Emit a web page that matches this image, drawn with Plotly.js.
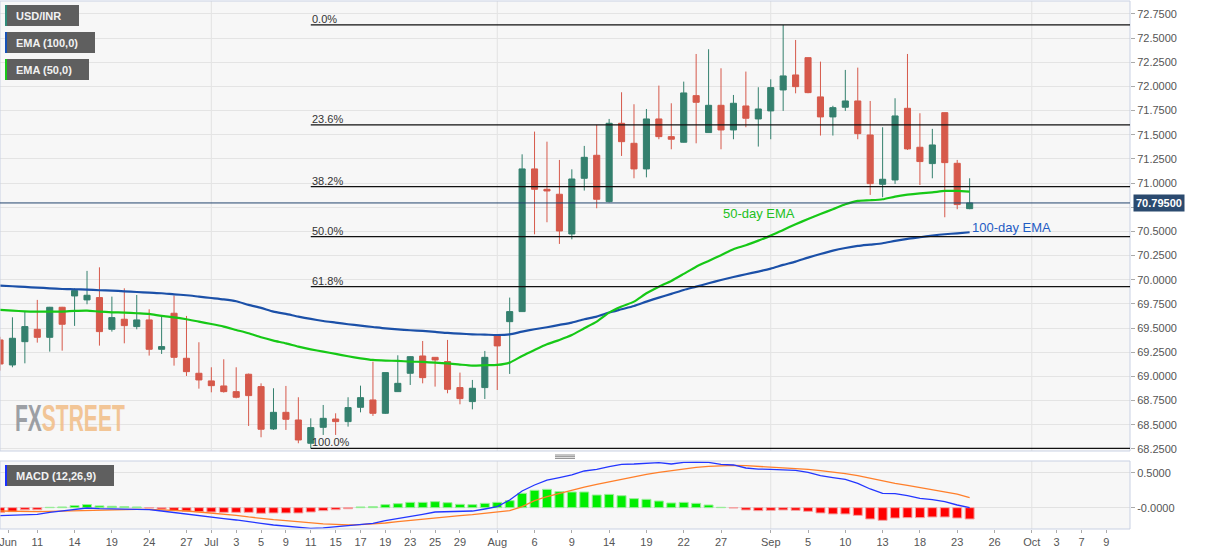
<!DOCTYPE html>
<html><head><meta charset="utf-8">
<script src="https://cdn.plot.ly/plotly-3.0.1.min.js"></script>
<style>html,body{margin:0;padding:0;background:#fff;}#chart{width:1207px;height:555px;}</style>
</head><body><div id="chart"></div>
<script>
// ---- data (USD/INR daily) ----
const dates = [
 '2019-06-06','2019-06-07','2019-06-10','2019-06-11','2019-06-12','2019-06-13','2019-06-14','2019-06-17','2019-06-18','2019-06-19',
 '2019-06-20','2019-06-21','2019-06-24','2019-06-25','2019-06-26','2019-06-27','2019-06-28','2019-07-01','2019-07-02','2019-07-03',
 '2019-07-04','2019-07-05','2019-07-08','2019-07-09','2019-07-10','2019-07-11','2019-07-12','2019-07-15','2019-07-16','2019-07-17',
 '2019-07-18','2019-07-19','2019-07-22','2019-07-23','2019-07-24','2019-07-25','2019-07-26','2019-07-29','2019-07-30','2019-07-31',
 '2019-08-01','2019-08-02','2019-08-05','2019-08-06','2019-08-07','2019-08-08','2019-08-09','2019-08-12','2019-08-13','2019-08-14',
 '2019-08-15','2019-08-16','2019-08-19','2019-08-20','2019-08-21','2019-08-22','2019-08-23','2019-08-26','2019-08-27','2019-08-28',
 '2019-08-29','2019-08-30','2019-09-02','2019-09-03','2019-09-04','2019-09-05','2019-09-06','2019-09-09','2019-09-10','2019-09-11',
 '2019-09-12','2019-09-13','2019-09-16','2019-09-17','2019-09-18','2019-09-19','2019-09-20','2019-09-23','2019-09-24'];
const open = [
 69.378,69.119,69.360,69.488,69.405,69.716,69.833,69.792,69.816,69.488,
 69.592,69.516,69.585,69.281,69.654,69.188,69.033,68.954,68.902,68.843,
 69.023,68.895,68.457,68.629,68.550,68.309,68.474,68.560,68.533,68.681,
 68.757,68.619,68.843,69.033,69.212,69.198,69.154,68.885,68.740,68.885,
 69.419,69.567,69.671,71.147,70.936,70.885,70.474,71.050,71.288,70.809,
 71.619,71.412,71.147,71.664,71.481,71.423,71.905,71.523,71.805,71.550,
 71.798,71.664,71.747,71.964,72.119,72.298,71.892,71.685,71.785,71.850,
 71.498,70.988,71.033,71.774,71.371,71.202,71.729,71.205,70.736];
const high = [
 69.410,69.612,69.671,69.792,69.720,69.720,69.912,70.092,70.129,69.826,
 69.912,69.843,69.695,69.626,69.836,69.626,69.354,69.095,69.178,69.095,
 69.030,68.929,68.878,68.902,68.785,68.567,68.705,68.619,68.785,68.905,
 69.154,69.040,69.219,69.210,69.367,69.200,69.378,69.040,68.964,69.264,
 69.420,69.816,71.298,71.533,71.429,71.240,71.143,71.385,71.602,71.664,
 71.940,71.816,71.767,72.009,71.826,72.050,72.336,72.385,72.188,71.912,
 72.154,71.992,72.074,72.636,72.481,72.300,72.257,71.800,72.171,72.195,
 71.850,71.578,71.878,72.336,71.723,71.561,71.730,71.240,71.050];
const low = [
 69.060,69.095,69.136,69.350,69.257,69.267,69.523,69.747,69.319,69.464,
 69.343,69.488,69.216,69.233,69.112,69.005,68.874,68.836,68.833,68.774,
 68.488,68.371,68.447,68.447,68.309,68.257,68.395,68.395,68.481,68.629,
 68.592,68.612,68.840,68.912,68.929,68.895,68.826,68.712,68.660,68.767,
 68.860,69.026,69.670,70.471,70.595,70.371,70.419,70.923,70.740,70.800,
 71.281,71.050,71.060,71.454,71.350,71.420,71.412,71.520,71.350,71.454,
 71.578,71.378,71.454,71.747,71.929,71.930,71.492,71.492,71.747,71.454,
 70.878,70.854,70.992,71.343,70.981,71.050,70.647,70.730,70.730];
const close = [
 69.129,69.395,69.516,69.405,69.716,69.540,69.888,69.840,69.464,69.609,
 69.526,69.585,69.281,69.309,69.198,69.050,68.964,68.905,68.843,68.785,
 68.802,68.454,68.629,68.557,68.343,68.471,68.567,68.533,68.678,68.781,
 68.619,69.040,68.929,69.205,68.988,69.171,68.867,68.771,68.878,69.198,
 69.316,69.671,71.147,70.936,70.919,70.505,71.043,71.267,70.833,71.619,
 71.429,71.147,71.664,71.481,71.454,71.933,71.836,71.805,71.550,71.826,
 71.671,71.767,71.988,72.109,71.998,71.936,71.685,71.781,71.850,71.512,
 70.995,71.040,71.695,71.354,71.223,71.395,71.212,70.778,70.795];
const ema100 = [
 69.940,69.933,69.926,69.919,69.912,69.905,69.902,69.898,69.892,69.888,
 69.881,69.874,69.867,69.861,69.850,69.840,69.826,69.812,69.798,69.778,
 69.740,69.709,69.671,69.647,69.619,69.595,69.574,69.557,69.540,69.526,
 69.512,69.498,69.488,69.478,69.471,69.461,69.450,69.443,69.436,69.433,
 69.429,69.436,69.464,69.488,69.509,69.533,69.557,69.592,69.619,69.661,
 69.695,69.729,69.774,69.816,69.854,69.895,69.929,69.964,69.998,70.029,
 70.057,70.085,70.116,70.154,70.188,70.229,70.267,70.302,70.329,70.350,
 70.364,70.378,70.402,70.423,70.440,70.457,70.471,70.481,70.492];
const ema50 = [
 69.688,69.681,69.674,69.671,69.671,69.671,69.678,69.681,69.671,69.664,
 69.661,69.654,69.647,69.626,69.612,69.592,69.567,69.543,69.516,69.481,
 69.447,69.405,69.371,69.343,69.309,69.281,69.257,69.233,69.209,69.188,
 69.171,69.164,69.161,69.154,69.150,69.143,69.136,69.123,69.112,69.116,
 69.119,69.143,69.212,69.274,69.333,69.378,69.429,69.498,69.567,69.661,
 69.723,69.774,69.861,69.929,69.988,70.061,70.136,70.195,70.254,70.316,
 70.357,70.405,70.457,70.516,70.574,70.629,70.681,70.729,70.781,70.816,
 70.823,70.833,70.861,70.881,70.895,70.905,70.919,70.919,70.912];
const macdLine = [
 -0.114,-0.105,-0.100,-0.095,-0.067,-0.043,-0.024,-0.005,-0.014,-0.019,
 -0.019,-0.019,-0.029,-0.048,-0.071,-0.095,-0.114,-0.138,-0.157,-0.176,
 -0.195,-0.224,-0.248,-0.262,-0.286,-0.295,-0.290,-0.276,-0.262,-0.238,
 -0.224,-0.186,-0.152,-0.119,-0.095,-0.062,-0.057,-0.057,-0.048,-0.019,
 0.014,0.110,0.238,0.324,0.395,0.429,0.467,0.524,0.548,0.586,
 0.619,0.624,0.633,0.643,0.624,0.648,0.652,0.648,0.619,0.610,
 0.567,0.552,0.548,0.543,0.533,0.505,0.457,0.429,0.405,0.348,
 0.267,0.205,0.200,0.171,0.133,0.114,0.086,0.038,0.000];
const signalLine = [
 -0.048,-0.052,-0.057,-0.057,-0.052,-0.048,-0.043,-0.033,-0.033,-0.029,
 -0.029,-0.024,-0.024,-0.029,-0.038,-0.048,-0.062,-0.076,-0.090,-0.110,
 -0.133,-0.157,-0.171,-0.186,-0.205,-0.219,-0.233,-0.238,-0.248,-0.243,
 -0.233,-0.219,-0.200,-0.181,-0.167,-0.148,-0.133,-0.114,-0.100,-0.081,
 -0.062,-0.043,0.014,0.100,0.157,0.205,0.252,0.295,0.333,0.371,
 0.410,0.438,0.476,0.505,0.529,0.552,0.576,0.590,0.600,0.605,
 0.600,0.590,0.581,0.571,0.562,0.548,0.529,0.510,0.486,0.457,
 0.419,0.381,0.348,0.319,0.290,0.262,0.233,0.195,0.143];
const macdHist = [
 -0.070,-0.057,-0.030,-0.030,0.005,0.010,0.030,0.045,0.025,0.020,
 0.015,0.010,-0.005,-0.020,-0.040,-0.050,-0.057,-0.062,-0.067,-0.067,
 -0.067,-0.080,-0.076,-0.076,-0.076,-0.062,-0.043,-0.029,-0.015,0.010,
 0.014,0.043,0.057,0.076,0.076,0.086,0.071,0.048,0.043,0.062,
 0.076,0.100,0.205,0.248,0.262,0.229,0.224,0.224,0.181,0.190,
 0.171,0.129,0.119,0.095,0.067,0.076,0.062,0.038,0.005,-0.005,
 -0.033,-0.043,-0.038,-0.033,-0.038,-0.052,-0.076,-0.090,-0.090,-0.110,
 -0.162,-0.181,-0.148,-0.143,-0.143,-0.133,-0.133,-0.148,-0.162];
const tickDates = ['2019-06-06','2019-06-11','2019-06-14','2019-06-19','2019-06-24','2019-06-27','2019-07-01','2019-07-03','2019-07-05','2019-07-09',
 '2019-07-11','2019-07-15','2019-07-17','2019-07-19','2019-07-23','2019-07-25','2019-07-29','2019-08-01','2019-08-06','2019-08-09',
 '2019-08-14','2019-08-19','2019-08-22','2019-08-27','2019-09-02','2019-09-05','2019-09-10','2019-09-13','2019-09-18','2019-09-23',
 '2019-09-26','2019-10-01','2019-10-03','2019-10-07','2019-10-09'];
const tickLabels = ['Jun','11','14','19','24','27','Jul','3','5','9',
 '11','15','17','19','23','25','29','Aug','6','9',
 '14','19','22','27','Sep','5','10','13','18','23',
 '26','Oct','3','7','9'];
const monthStarts = ['2019-07-01','2019-08-01','2019-09-02','2019-10-01'];
const fibLevels = [0, 23.6, 38.2, 50, 61.8, 100];
const priceTicks = [68.25,68.5,68.75,69,69.25,69.5,69.75,70,70.25,70.5,70.75,71,71.25,71.5,71.75,72,72.25,72.5,72.75];

// ---- trading-day calendar (weekdays) used as x positions ----
function weekdays(a, b){
  const out=[]; const d=new Date(a+'T00:00:00Z'); const e=new Date(b+'T00:00:00Z');
  while(d<=e){ const w=d.getUTCDay(); if(w!==0&&w!==6) out.push(d.toISOString().slice(0,10)); d.setUTCDate(d.getUTCDate()+1); }
  return out;
}
const cal = weekdays('2019-06-06','2019-10-11');
const pos = s => cal.indexOf(s);
const xs = dates.map(pos);
const XMAX = 90.9;
const tickvals = tickDates.map(pos);
tickvals[0] += 0.65; // first month label nudged inside the plot as in the original

// pixel helpers for decorations (plot area: x 0..1130, y 1..529)
const PW = 1130, PT = 1, PH = 528;
const PX = x => x / PW;
const PY = y => 1 - (y - PT) / PH;

const FONT = 'Liberation Sans, Arial, sans-serif';
const traces = [
  {type:'candlestick', x:xs, open:open, high:high, low:low, close:close,
   increasing:{line:{color:'#34806e',width:1}, fillcolor:'#34806e'},
   decreasing:{line:{color:'#d6594b',width:1}, fillcolor:'#d6594b'},
   whiskerwidth:0, hoverinfo:'skip', showlegend:false, xaxis:'x', yaxis:'y'},
  {type:'scatter', mode:'lines', x:xs, y:ema100, line:{color:'#1b50a8', width:2.2, shape:'spline', smoothing:0.6}, hoverinfo:'skip', showlegend:false, yaxis:'y'},
  {type:'scatter', mode:'lines', x:xs, y:ema50, line:{color:'#16c816', width:2.2, shape:'spline', smoothing:0.6}, hoverinfo:'skip', showlegend:false, yaxis:'y'},
  {type:'bar', x:xs, y:macdHist, width:0.72, yaxis:'y2', hoverinfo:'skip', showlegend:false,
   marker:{color:macdHist.map(v=>v>=0?'#00ee00':'#ff0000'), line:{color:macdHist.map(v=>v>=0?'#9aee9a':'#f4a4a4'), width:1}}},
  {type:'scatter', mode:'lines', x:xs, y:signalLine, line:{color:'#ff7f2a', width:1.3}, hoverinfo:'skip', showlegend:false, yaxis:'y2'},
  {type:'scatter', mode:'lines', x:xs, y:macdLine, line:{color:'#2336ff', width:1.3}, hoverinfo:'skip', showlegend:false, yaxis:'y2'}
];

const hi = Math.max(...high), lo = Math.min(...low);
const loDate = dates[low.indexOf(lo)];
const lastClose = close[close.length-1];

const shapes = [], annotations = [];
// month grid lines
monthStarts.forEach(d => {
  ['y','y2'].forEach(ax => shapes.push({type:'line', xref:'x', yref:ax+' domain', x0:pos(d), x1:pos(d), y0:0, y1:1, line:{color:'#e2e2e2', width:1}, layer:'below'}));
});
// panel borders
['y','y2'].forEach(ax => shapes.push({type:'rect', xref:'paper', yref:ax+' domain', x0:0, x1:1, y0:0, y1:1, line:{color:'#c9d1e3', width:1}, layer:'above'}));
// fibonacci retracement
fibLevels.forEach(p => {
  const v = hi - (hi - lo) * p / 100;
  shapes.push({type:'line', xref:'x', yref:'y', x0:pos(loDate), x1:XMAX, y0:v, y1:v, line:{color:'#111', width:1.3}});
  annotations.push({xref:'x', yref:'y', x:pos(loDate), y:v, xanchor:'left', yanchor:'bottom', showarrow:false, text:p.toFixed(1)+'%', font:{family:FONT, size:11, color:'#333'}, borderpad:0, yshift:-1});
});
// last price line + label
shapes.push({type:'line', xref:'paper', yref:'y', x0:0, x1:1, y0:lastClose, y1:lastClose, line:{color:'#23456e', width:1}});
annotations.push({xref:'paper', yref:'y', x:1, y:lastClose, xanchor:'left', yanchor:'middle', xshift:3, showarrow:false,
  text:'<b>'+lastClose.toFixed(5)+'</b>', bgcolor:'#2b4a6f', borderpad:2, font:{family:FONT, size:11, color:'#fff'}});
// EMA labels
annotations.push({xref:'x', yref:'y', x:pos('2019-08-27'), y:70.681, xanchor:'left', yanchor:'middle', showarrow:false, text:'50-day EMA', font:{family:FONT, size:13, color:'#22c022'}});
annotations.push({xref:'x', yref:'y', x:pos('2019-09-24'), y:70.536, xanchor:'left', yanchor:'middle', showarrow:false, text:'100-day EMA', font:{family:FONT, size:13, color:'#1f5cc4'}});
// indicator tags
const tags = [
  {t:'USD/INR', c:'#2f8c7a', x1:79, y0:5, y1:26},
  {t:'EMA (100,0)', c:'#1652b8', x1:95, y0:32, y1:53},
  {t:'EMA (50,0)', c:'#19c819', x1:89, y0:59, y1:80},
  {t:'MACD (12,26,9)', c:'#1a30ff', x1:114, y0:465, y1:486}
];
tags.forEach(g => {
  shapes.push({type:'rect', xref:'paper', yref:'paper', x0:PX(5), x1:PX(g.x1), y0:PY(g.y1), y1:PY(g.y0), fillcolor:'#5f5f5f', line:{width:0}, layer:'above'});
  shapes.push({type:'rect', xref:'paper', yref:'paper', x0:PX(5), x1:PX(7), y0:PY(g.y1), y1:PY(g.y0), fillcolor:g.c, line:{width:0}, layer:'above'});
  annotations.push({xref:'paper', yref:'paper', x:PX(15), y:PY((g.y0+g.y1)/2), xanchor:'left', yanchor:'middle', showarrow:false, borderpad:0,
    text:'<b>'+g.t+'</b>', font:{family:FONT, size:11, color:'#f2f2f2'}});
});
// panel grip
[455,456.7,458.4].forEach(y => shapes.push({type:'line', xref:'paper', yref:'paper', x0:PX(555), x1:PX(575), y0:PY(y), y1:PY(y), line:{color:'#8a8a8a', width:1}}));
// watermark
annotations.push({xref:'paper', yref:'paper', x:PX(14), y:PY(418), xanchor:'left', yanchor:'middle', showarrow:false, borderpad:0,
  text:'<b><span style="color:#8d9096">FX</span><span style="color:#f2bd86">STREET</span></b>', opacity:0.85,
  font:{family:'Liberation Sans Narrow, Arial Narrow, sans-serif', size:37}});

const layout = {
  width:1207, height:555, margin:{l:0, r:77, t:PT, b:555-PT-PH}, paper_bgcolor:'#fff', plot_bgcolor:'#f7f7f7',
  showlegend:false, dragmode:false, hovermode:false,
  xaxis:{type:'linear', range:[0, XMAX], anchor:'y2', tickmode:'array', tickvals:tickvals, ticktext:tickLabels,
    ticks:'outside', ticklen:3, tickcolor:'#aaa', showgrid:false, zeroline:false, showline:false, ticklabeloverflow:'allow',
    tickfont:{family:FONT, size:11, color:'#555'}, rangeslider:{visible:false}, fixedrange:true},
  yaxis:{domain:[(PT+PH-451)/PH, 1], range:[68.229, 72.884], side:'right', anchor:'x', tickmode:'array', tickvals:priceTicks,
    // the label hidden behind the last-price tag is left blank
    ticktext:priceTicks.map(v => Math.abs(v - lastClose) < 0.08 ? '' : v.toFixed(4)),
    ticks:'outside', ticklen:4, tickcolor:'#aaa', gridcolor:'#e4e4e4', zeroline:false, showline:false,
    tickfont:{family:FONT, size:11, color:'#555'}, fixedrange:true},
  yaxis2:{domain:[0, (PT+PH-461)/PH], range:[-0.305, 0.667], side:'right', anchor:'x', tickmode:'array', tickvals:[0,0.5], ticktext:['-0.0000','0.5000'],
    ticks:'outside', ticklen:4, tickcolor:'#aaa', gridcolor:'#e2e2e2', zeroline:false, showline:false,
    tickfont:{family:FONT, size:11, color:'#555'}, fixedrange:true},
  shapes:shapes, annotations:annotations
};

Plotly.newPlot('chart', traces, layout, {displayModeBar:false, staticPlot:true}).then(() => {
  // condense the watermark lettering horizontally to the logo's width
  document.querySelectorAll('.annotation-text').forEach(t => {
    if (t.textContent.indexOf('STREET') >= 0) {
      const b = t.getBBox();
      const s = 110 / b.width;
      t.setAttribute('transform', 'translate('+b.x+',0) scale('+s.toFixed(3)+',1) translate('+(-b.x)+',0)');
    }
  });
});
</script></body></html>
